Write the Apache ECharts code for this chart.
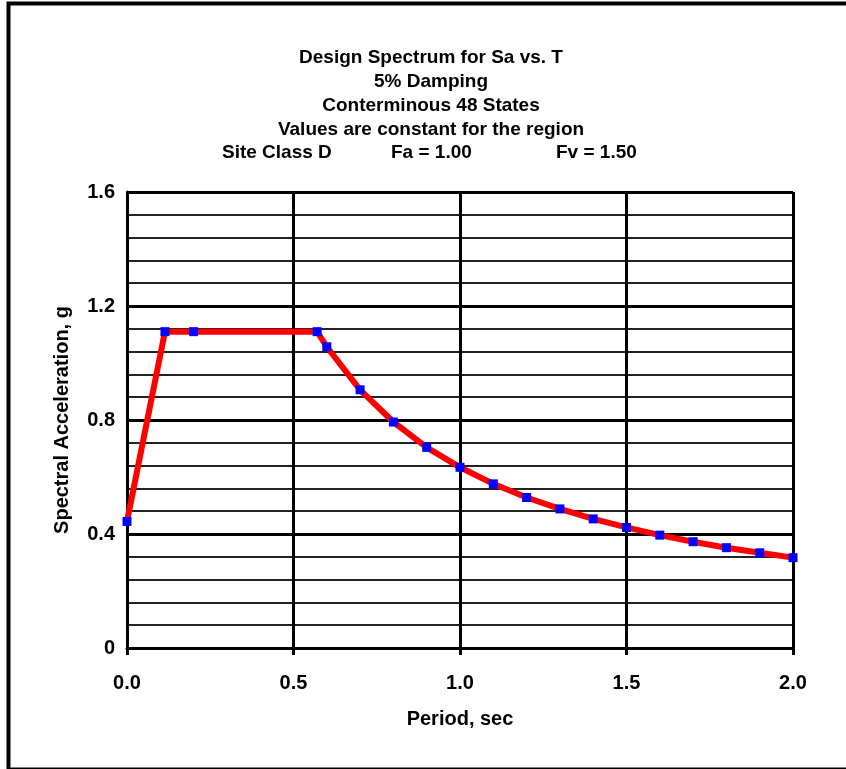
<!DOCTYPE html>
<html>
<head>
<meta charset="utf-8">
<script src="https://cdn.jsdelivr.net/npm/echarts@6/dist/echarts.min.js"></script>
<style>html,body{margin:0;padding:0;background:#fff;}#c{width:846px;height:769px;}</style>
</head>
<body>
<div id="c"></div>
<script>
var titleLines = ['Design Spectrum for Sa vs. T', '5% Damping', 'Conterminous 48 States', 'Values are constant for the region'];
var siteLine = ['Site Class D', 'Fa = 1.00', 'Fv = 1.50'];
var xAxisName = 'Period, sec';
var yAxisName = 'Spectral Acceleration, g';
var periods = [0.0, 0.114, 0.2, 0.571, 0.6, 0.7, 0.8, 0.9, 1.0, 1.1, 1.2, 1.3, 1.4, 1.5, 1.6, 1.7, 1.8, 1.9, 2.0];
var sa = [0.444, 1.110, 1.110, 1.110, 1.057, 0.906, 0.793, 0.704, 0.634, 0.576, 0.528, 0.488, 0.453, 0.423, 0.396, 0.373, 0.352, 0.334, 0.317];

var FONT = '"Liberation Sans", Arial, sans-serif';
var chart = echarts.init(document.getElementById('c'), null, {renderer: 'canvas'});
var data = periods.map(function (t, i) { return [t, sa[i]]; });
var siteLeft = [222, 391, 556];

var titles = [{
  text: titleLines.join('\n'),
  left: 431, top: 46, textAlign: 'center', padding: 0,
  textStyle: {fontFamily: FONT, fontSize: 19, fontWeight: 'bold', color: '#000', lineHeight: 24}
}];
siteLine.forEach(function (s, i) {
  titles.push({
    text: s, left: siteLeft[i], top: 141, padding: 0,
    textStyle: {fontFamily: FONT, fontSize: 19, fontWeight: 'bold', color: '#000', lineHeight: 24}
  });
});

chart.setOption({
  animation: false,
  backgroundColor: '#fff',
  title: titles,
  graphic: [{
    type: 'rect', left: 6, top: 1, z: 100,
    shape: {x: 0, y: 0, width: 860, height: 766},
    style: {fill: null, stroke: '#000', lineWidth: 4}
  }],
  grid: {left: 127, right: 53, top: 192, bottom: 121, containLabel: false},
  xAxis: {
    type: 'value', min: 0, max: 2, interval: 0.5,
    name: xAxisName, nameLocation: 'middle', nameGap: 61,
    nameTextStyle: {fontFamily: FONT, fontSize: 20, fontWeight: 'bold', color: '#000'},
    axisLine: {show: true, lineStyle: {color: '#000', width: 3}},
    axisTick: {show: true, length: 7, lineStyle: {color: '#000', width: 3}},
    axisLabel: {margin: 25, fontFamily: FONT, fontSize: 20, fontWeight: 'bold', color: '#000',
      formatter: function (v) { return v.toFixed(1); }},
    splitLine: {show: true, lineStyle: {color: '#000', width: 3}}
  },
  yAxis: {
    type: 'value', min: 0, max: 1.6, interval: 0.4,
    name: yAxisName, nameLocation: 'middle', nameGap: 55, nameRotate: 90,
    nameTextStyle: {fontFamily: FONT, fontSize: 20, fontWeight: 'bold', color: '#000'},
    axisLine: {show: true, lineStyle: {color: '#000', width: 3}},
    axisTick: {show: false},
    minorTick: {show: false, splitNumber: 5},
    minorSplitLine: {show: true, lineStyle: {color: '#222', width: 2}},
    axisLabel: {margin: 12, fontFamily: FONT, fontSize: 20, fontWeight: 'bold', color: '#000',
      formatter: function (v) { return v === 0 ? '0' : v.toFixed(1); }},
    splitLine: {show: true, lineStyle: {color: '#000', width: 3}}
  },
  series: [{
    type: 'line', data: data,
    lineStyle: {color: '#ff0000', width: 6},
    symbol: 'rect', symbolSize: 9, showSymbol: true,
    itemStyle: {color: '#0000ff'},
    clip: false, z: 10
  }]
});
</script>
</body>
</html>
